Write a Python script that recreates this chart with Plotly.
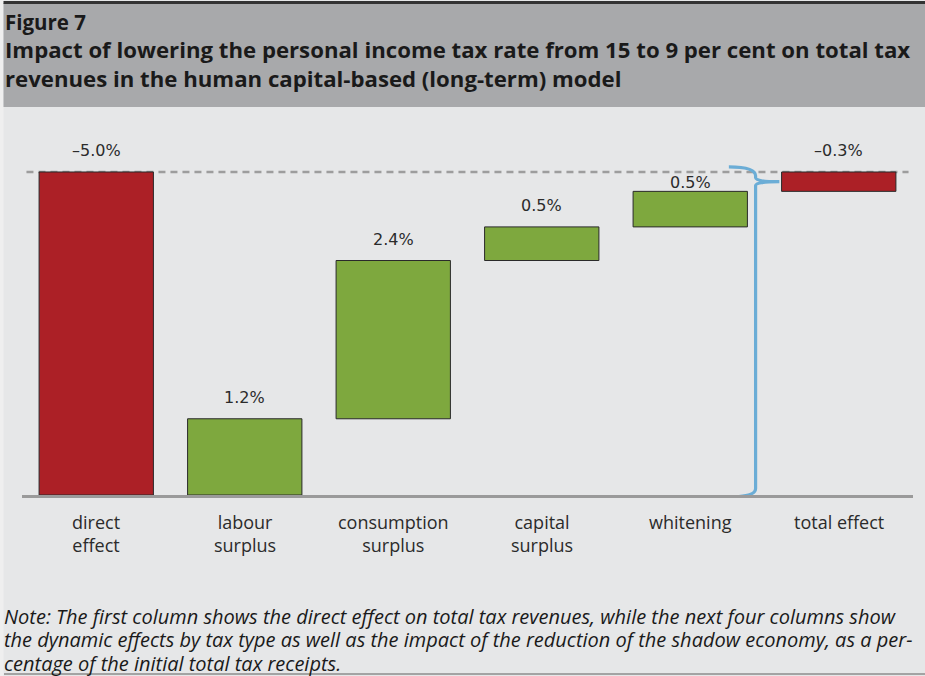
import plotly.graph_objects as go

# ---- data ----
categories = ["direct<br>effect", "labour<br>surplus", "consumption<br>surplus",
              "capital<br>surplus", "whitening", "total effect"]
direct_effect = -5.0
dynamic_effects = [1.18, 2.45, 0.52, 0.55]   # labour, consumption, capital, whitening
value_labels = ["–5.0%", "1.2%", "2.4%", "0.5%", "0.5%", "–0.3%"]

figure_label = "Figure 7"
title_lines = ["Impact of lowering the personal income tax rate from 15 to 9 per cent on total tax",
               "revenues in the human capital-based (long-term) model"]
note_lines = ["Note: The first column shows the direct effect on total tax revenues, while the next four columns show",
              "the dynamic effects by tax type as well as the impact of the reduction of the shadow economy, as a per-",
              "centage of the initial total tax receipts."]

total_effect = direct_effect + sum(dynamic_effects)

# bases / heights for floating (waterfall) bars
bases = [0.0]
heights = [direct_effect]
level = direct_effect
for d in dynamic_effects:
    bases.append(level)
    heights.append(d)
    level += d
bases.append(0.0)
heights.append(total_effect)

RED = "#ac2026"
GREEN = "#7ea83e"
colors = [RED] + [GREEN] * len(dynamic_effects) + [RED]
xs = list(range(len(categories)))

# ---- layout geometry (pixels) ----
FW, FH = 925, 676
L, R, T, B = 22, 12, 130, 181
PW = FW - L - R
PH = FH - T - B


def px_x(p):
    return (p - L) / PW


def px_y(p):
    return (FH - B - p) / PH


fig = go.Figure()
fig.add_trace(go.Bar(
    x=xs, y=heights, base=bases, width=0.77,
    marker=dict(color=colors, line=dict(color="#2a2a2a", width=1)),
    hoverinfo="skip", showlegend=False,
))

annotations = []
# value labels
for i, (b, h, lab) in enumerate(zip(bases, heights, value_labels)):
    top = max(b, b + h)
    shift = 10 if i != 4 else -3
    annotations.append(dict(
        x=i, y=top, xref="x", yref="y", text=lab, showarrow=False,
        yanchor="bottom", yshift=shift,
        font=dict(family="DejaVu Sans", size=16, color="#2b2b2b"),
    ))

# category labels
cat_font = dict(family="Open Sans", size=18, color="#2b2b2b")
for i, cat in enumerate(categories):
    annotations.append(dict(
        x=i, y=px_y(509), xref="x", yref="paper", text=cat, showarrow=False,
        xanchor="center", yanchor="top", font=cat_font, borderpad=0, align="center",
    ))

# header texts
annotations.append(dict(
    x=px_x(4), y=px_y(21.5), xref="paper", yref="paper", xanchor="left", yanchor="middle",
    text=f"<b>{figure_label}</b>", showarrow=False, borderpad=0,
    font=dict(family="Open Sans", size=20.5, color="#1a1a1a"),
))
annotations.append(dict(
    x=px_x(4), y=px_y(64), xref="paper", yref="paper", xanchor="left", yanchor="middle",
    text="<b>" + "<br>".join(title_lines) + "</b>", showarrow=False, borderpad=0, align="left",
    font=dict(family="Open Sans", size=22.2, color="#1a1a1a"),
))
# note texts (one line each, reference line spacing)
note_font = dict(family="Open Sans", size=20, color="#1a1a1a")
for k, line in enumerate(note_lines):
    annotations.append(dict(
        x=px_x(3), y=px_y(616 + 23.5 * k), xref="paper", yref="paper", xanchor="left", yanchor="middle",
        text=f"<i>{line}</i>", showarrow=False, font=note_font, borderpad=0,
    ))

shapes = [
    # light left strip
    dict(type="rect", xref="paper", yref="paper", x0=px_x(0), x1=px_x(3.5), y0=px_y(FH), y1=px_y(0),
         fillcolor="#efefef", line=dict(width=0), layer="below"),
    # header background
    dict(type="rect", xref="paper", yref="paper", x0=px_x(3.5), x1=px_x(FW), y0=px_y(107), y1=px_y(3),
         fillcolor="#a8a9ab", line=dict(width=0), layer="below"),
    # top dark rule
    dict(type="line", xref="paper", yref="paper", x0=px_x(3.5), x1=px_x(FW), y0=px_y(2.5), y1=px_y(2.5),
         line=dict(color="#333333", width=3)),
    # bottom rule
    dict(type="line", xref="paper", yref="paper", x0=px_x(4), x1=px_x(FW), y0=px_y(674), y1=px_y(674),
         line=dict(color="#a3a3a3", width=2)),
    # dashed reference line at zero
    dict(type="line", xref="x", yref="y", x0=-0.47, x1=5.47, y0=0, y1=0,
         line=dict(color="#9d9d9d", width=2.5, dash="7px,5px"), layer="below"),
]

# curly bracket spanning the whole waterfall, pointing at the total bar
sx = 4.44               # spine x (between whitening and total)
ex = 4.26               # ends x
cx = 4.6                # cusp x
mid = total_effect / 2  # cusp y
ytop, ybot = 0.0, direct_effect
path = (f"M {ex},{ytop + 0.08} Q {sx},{ytop + 0.08} {sx},{ytop - 0.06} "
        f"L {sx},{mid + 0.06} Q {sx},{mid} {cx},{mid} "
        f"Q {sx},{mid} {sx},{mid - 0.06} "
        f"L {sx},{ybot + 0.1} Q {sx},{ybot - 0.03} {ex},{ybot - 0.03}")
shapes.append(dict(type="path", xref="x", yref="y", path=path,
                   line=dict(color="#6badd6", width=3.2)))

fig.update_layout(
    width=FW, height=FH,
    margin=dict(l=L, r=R, t=T, b=B),
    paper_bgcolor="#e6e7e8", plot_bgcolor="#e6e7e8",
    bargap=0.23,
    xaxis=dict(
        range=[-0.5, 5.5], tickmode="array", tickvals=xs, ticktext=[""] * len(xs),
        showgrid=False, zeroline=False, showline=True, linecolor="#9a9a9a", linewidth=3,
        ticks="", fixedrange=True,
    ),
    yaxis=dict(range=[direct_effect, 0.65], visible=False, fixedrange=True),
    annotations=annotations,
    shapes=shapes,
)

fig.write_html("out.html", config={"displayModeBar": False},
               post_script="document.body.style.margin='0';document.body.style.overflow='hidden';")
